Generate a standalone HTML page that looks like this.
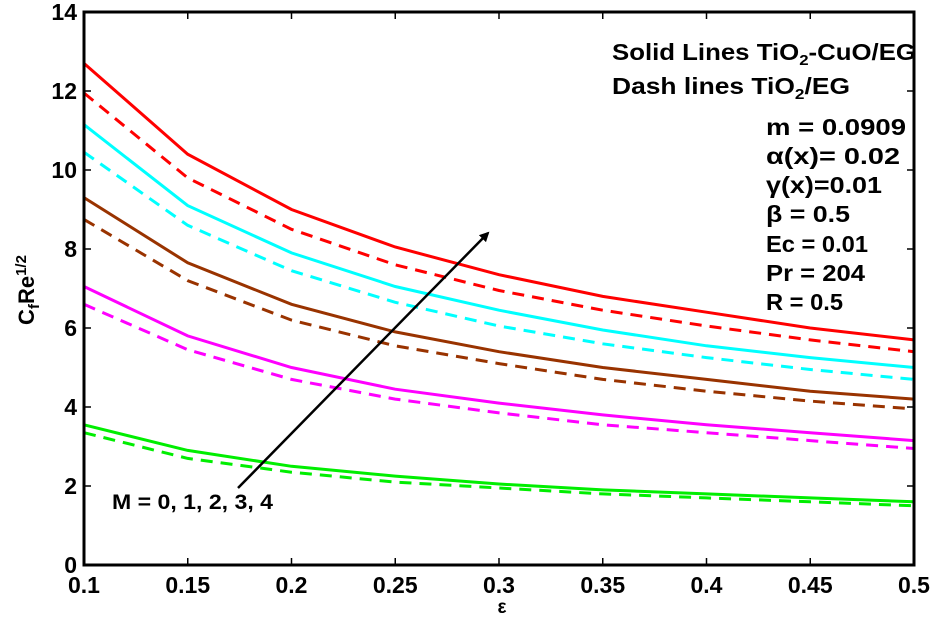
<!DOCTYPE html>
<html><head><meta charset="utf-8"><style>
body{margin:0;background:#fff}
svg text{font-family:"Liberation Sans",Arial,sans-serif;font-weight:bold;fill:#000}
</style></head><body>
<svg id="c" width="931" height="624" xmlns="http://www.w3.org/2000/svg"></svg>
<script>
const xVals=[0.1,0.15,0.2,0.25,0.3,0.35,0.4,0.45,0.5];
const redSolid=[12.7,10.4,9.0,8.05,7.35,6.8,6.4,6.0,5.7];
const redDash=[11.95,9.8,8.5,7.6,6.95,6.45,6.05,5.7,5.4];
const cyanSolid=[11.15,9.1,7.9,7.05,6.45,5.95,5.55,5.25,5.0];
const cyanDash=[10.45,8.6,7.45,6.65,6.05,5.6,5.25,4.95,4.7];
const brownSolid=[9.3,7.65,6.6,5.9,5.4,5.0,4.7,4.4,4.2];
const brownDash=[8.75,7.2,6.2,5.55,5.1,4.7,4.4,4.15,3.95];
const magSolid=[7.05,5.8,5.0,4.45,4.1,3.8,3.55,3.35,3.15];
const magDash=[6.6,5.45,4.7,4.2,3.85,3.55,3.35,3.15,2.95];
const greenSolid=[3.55,2.9,2.5,2.25,2.05,1.9,1.8,1.7,1.6];
const greenDash=[3.35,2.7,2.35,2.1,1.95,1.8,1.7,1.6,1.5];
const xTicks=[0.1,0.15,0.2,0.25,0.3,0.35,0.4,0.45,0.5];
const yTicks=[0,2,4,6,8,10,12,14];

const L=84,R=914,T=12,B=565;
const sx=v=>L+(v-0.1)/0.4*(R-L);
const sy=v=>B-v/14*(B-T);
const svg=document.getElementById('c');
const NS='http://www.w3.org/2000/svg';
function mk(tag,attrs,parent){const e=document.createElementNS(NS,tag);for(const k in attrs)e.setAttribute(k,attrs[k]);(parent||svg).appendChild(e);return e;}

const series=[
 [greenSolid,'#00ee00',false,'green-solid-m0'],[greenDash,'#00ee00',true,'green-dash-m0'],
 [magSolid,'#ff00ff',false,'magenta-solid-m1'],[magDash,'#ff00ff',true,'magenta-dash-m1'],
 [brownSolid,'#993300',false,'brown-solid-m2'],[brownDash,'#993300',true,'brown-dash-m2'],
 [cyanSolid,'#00ffff',false,'cyan-solid-m3'],[cyanDash,'#00ffff',true,'cyan-dash-m3'],
 [redSolid,'#ff0000',false,'red-solid-m4'],[redDash,'#ff0000',true,'red-dash-m4']];
series.forEach(s=>{
  const d=s[0].map((v,i)=>(i?'L':'M')+sx(xVals[i]).toFixed(1)+' '+sy(v).toFixed(1)).join(' ');
  const p=mk('path',{d:d,fill:'none',stroke:s[1],'stroke-width':3});
  if(s[2])p.setAttribute('stroke-dasharray','12 8');
  
  
});

const box=mk('rect',{x:L,y:T,width:R-L,height:B-T,fill:'none',stroke:'#000','stroke-width':3});


xTicks.forEach(t=>{
  const x=sx(t);
  mk('line',{x1:x,y1:B,x2:x,y2:B-7,stroke:'#000','stroke-width':1.5});
  mk('line',{x1:x,y1:T,x2:x,y2:T+7,stroke:'#000','stroke-width':1.5});
  const tx=mk('text',{x:x,y:593,'font-size':23,'text-anchor':'middle'});
  tx.textContent=t;
  
  
});
yTicks.forEach(t=>{
  const y=sy(t);
  mk('line',{x1:L,y1:y,x2:L+7,y2:y,stroke:'#000','stroke-width':1.5});
  mk('line',{x1:R,y1:y,x2:R-7,y2:y,stroke:'#000','stroke-width':1.5});
  const tx=mk('text',{x:77,y:y+8,'font-size':23,'text-anchor':'end'});
  tx.textContent=t;
  
  
});
</script>
<svg width="931" height="624" style="position:absolute;left:0;top:0" xmlns="http://www.w3.org/2000/svg">
<style>text{font-family:"Liberation Sans",Arial,sans-serif;font-weight:bold;fill:#000}</style>
<defs><marker id="ah" markerWidth="10" markerHeight="10" refX="8" refY="5" orient="auto" markerUnits="userSpaceOnUse"><path d="M0,0 L10,5 L0,10 z" fill="#000"/></marker></defs>
<line x1="238" y1="488" x2="488" y2="233" stroke="#000" stroke-width="2.5" marker-end="url(#ah)"/>
<text x="112" y="509" font-size="21" textLength="161" lengthAdjust="spacingAndGlyphs">M = 0, 1, 2, 3, 4</text>
<text x="502" y="613" font-size="19" text-anchor="middle">ε</text>
<text transform="translate(34,290) rotate(-90)" font-size="22" text-anchor="middle">C<tspan font-size="15" dy="5">f</tspan><tspan dy="-5">Re</tspan><tspan font-size="15" dy="-8">1/2</tspan></text>
<g font-size="23">
<text x="612" y="60" textLength="304" lengthAdjust="spacingAndGlyphs">Solid Lines  TiO<tspan font-size="15" dy="5">2</tspan><tspan dy="-5">-CuO/EG</tspan></text>
<text x="612" y="94" textLength="238" lengthAdjust="spacingAndGlyphs">Dash lines  TiO<tspan font-size="15" dy="5">2</tspan><tspan dy="-5">/EG</tspan></text>
<text x="766" y="135" textLength="140" lengthAdjust="spacingAndGlyphs">m = 0.0909</text>
<text x="766" y="164" textLength="134" lengthAdjust="spacingAndGlyphs">α(x)= 0.02</text>
<text x="766" y="193" textLength="116" lengthAdjust="spacingAndGlyphs">γ(x)=0.01</text>
<text x="766" y="222" textLength="84" lengthAdjust="spacingAndGlyphs">β = 0.5</text>
<text x="766" y="252" textLength="102" lengthAdjust="spacingAndGlyphs">Ec = 0.01</text>
<text x="766" y="281" textLength="99" lengthAdjust="spacingAndGlyphs">Pr  = 204</text>
<text x="766" y="310" textLength="77" lengthAdjust="spacingAndGlyphs">R = 0.5</text>
</g>
</svg>
</body></html>
